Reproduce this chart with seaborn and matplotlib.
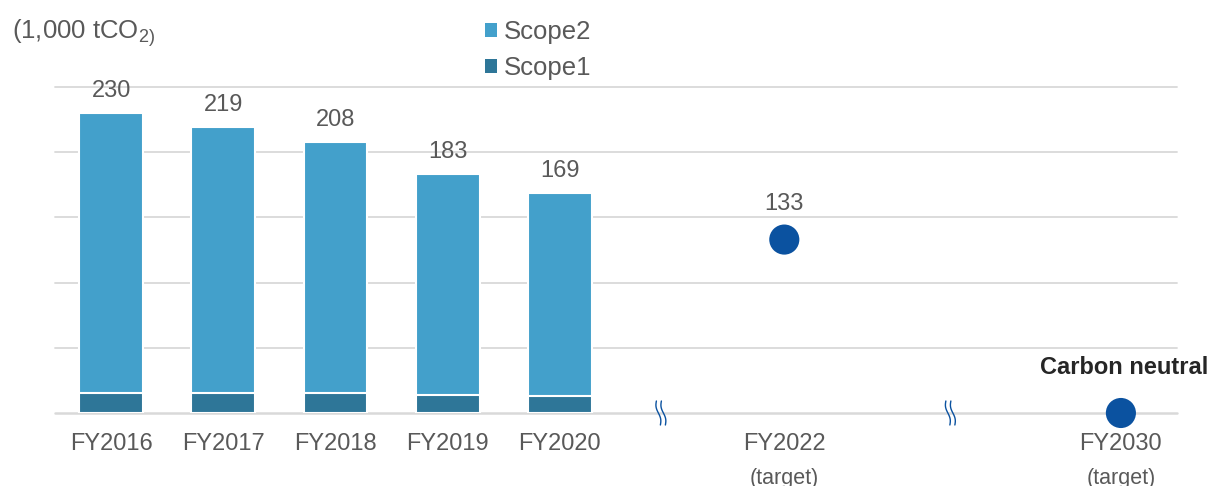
import numpy as np
import pandas as pd
import matplotlib
matplotlib.use("Agg")
import matplotlib.pyplot as plt
from matplotlib.patches import Patch
from matplotlib.lines import Line2D
from matplotlib.transforms import IdentityTransform
import seaborn as sns

# ---- data ----
years = ["FY2016", "FY2017", "FY2018", "FY2019", "FY2020"]
scope1 = [15, 15, 15, 14, 13]
scope2 = [215, 204, 193, 169, 156]
totals = [230, 219, 208, 183, 169]
target_years = ["FY2022", "FY2030"]
target_values = [133, 0]
target_note = "(target)"
bar_pos = [0, 1, 2, 3, 4]
target_pos = [6, 9]
break_pos = [4.9, 7.48]
yticks = [50, 100, 150, 200, 250]

C_S2 = "#43A0CB"
C_S1 = "#2E7698"
C_DOT = "#0B52A0"
C_TXT = "#595959"
C_GRID = "#D9D9D9"

sns.set_theme(style="white")
plt.rcParams["font.family"] = ["Liberation Sans", "DejaVu Sans"]
plt.rcParams["mathtext.fontset"] = "custom"
plt.rcParams["mathtext.rm"] = "Liberation Sans"

fig = plt.figure(figsize=(12.1, 4.86), dpi=100)
ax = fig.add_axes([55 / 1210, 73 / 486, 1122 / 1210, 326 / 486])

df = pd.DataFrame({"pos": bar_pos, "total": totals, "s1": scope1, "s2": scope2})

for y in yticks:
    ax.axhline(y, color=C_GRID, lw=1.3, zorder=0, clip_on=False)
ax.axhline(0, color=C_GRID, lw=1.8, zorder=0.5, clip_on=False)

sns.barplot(data=df, x="pos", y="total", native_scale=True, color=C_S2,
            saturation=1, width=0.57, edgecolor="white", linewidth=1.5, ax=ax, zorder=2)
sns.barplot(data=df, x="pos", y="s1", native_scale=True, color=C_S1,
            saturation=1, width=0.57, edgecolor="white", linewidth=1.5, ax=ax, zorder=3)

tdf = pd.DataFrame({"pos": target_pos, "val": target_values})
sns.scatterplot(data=tdf, x="pos", y="val", color=C_DOT, s=470, edgecolor="none",
                ax=ax, zorder=5, clip_on=False, legend=False)

ax.set_xlim(-0.5, 9.5)
ax.set_ylim(0, 250)
ax.set_yticks([])
ax.set_xticks(bar_pos + target_pos)
ax.set_xticklabels(years + target_years)
ax.tick_params(axis="x", length=0, pad=14.5, labelsize=17, labelcolor=C_TXT)
ax.set_xlabel("")
ax.set_ylabel("")
for s in ax.spines.values():
    s.set_visible(False)

for x, t in zip(bar_pos, totals):
    ax.annotate(str(t), (x, t), xytext=(0, 11.5), textcoords="offset points",
                ha="center", va="baseline", fontsize=17, color=C_TXT)
ax.annotate(str(target_values[0]), (target_pos[0], target_values[0]), xytext=(0, 21),
            textcoords="offset points", ha="center", va="baseline", fontsize=17, color=C_TXT)
ax.annotate("Carbon neutral", (target_pos[1], target_values[1]), xytext=(2, 33),
            textcoords="offset points", ha="center", va="center", fontsize=17,
            fontweight="bold", color="#262626", annotation_clip=False)
for x in target_pos:
    ax.annotate(target_note, (x, 0), xytext=(0, -47), textcoords="offset points",
                ha="center", va="center", fontsize=15.5, color=C_TXT, annotation_clip=False)

# axis break marks
t = np.linspace(-1, 1, 30)
for xb in break_pos:
    px, py = ax.transData.transform((xb, 0))
    for dx in (-2.5, 2.5):
        xs = px + dx + 2.0 * t + 1.3 * np.sin(np.pi * t)
        ys = py - 12 * t
        fig.add_artist(Line2D(xs, ys, transform=IdentityTransform(), color=C_DOT, lw=1.0))

fig.text(12 / 1210, 1 - 33 / 486, r"(1,000 tCO$_\mathregular{2)}$", fontsize=18.5,
         color=C_TXT, va="center", ha="left")

handles = [Patch(facecolor=C_S2, edgecolor="none", label="Scope2"),
           Patch(facecolor=C_S1, edgecolor="none", label="Scope1")]
fig.legend(handles=handles, loc="upper left", bbox_to_anchor=(485 / 1210, 1 - 20 / 486),
           frameon=False, fontsize=18.5, handlelength=0.47, handleheight=0.47,
           handletextpad=0.27, labelspacing=0.47, labelcolor=C_TXT,
           borderpad=0, borderaxespad=0)

fig.savefig("out.png", dpi=100)
